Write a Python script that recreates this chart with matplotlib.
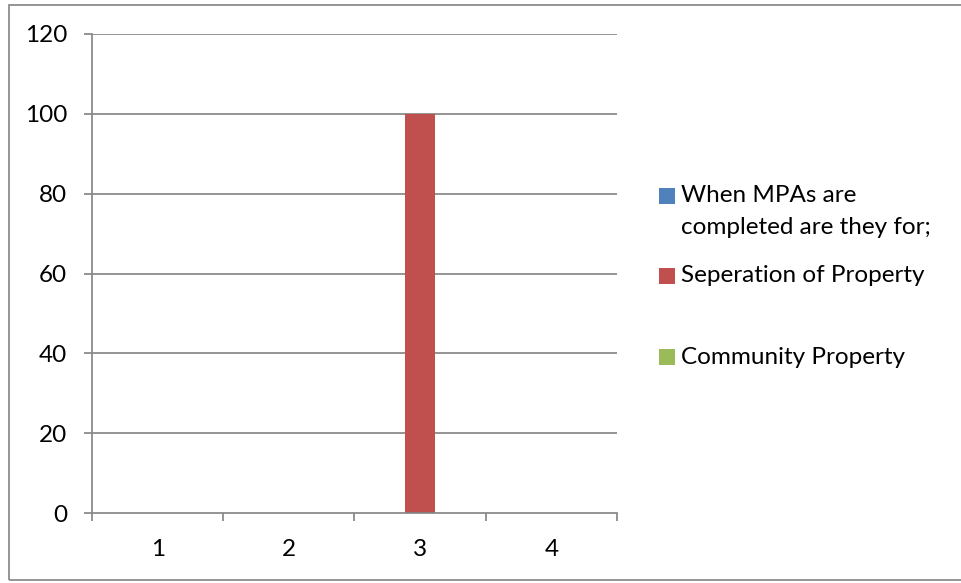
import matplotlib
matplotlib.use("Agg")
import matplotlib.pyplot as plt
from matplotlib.patches import Rectangle
import numpy as np

plt.rcParams['font.family'] = ['Lato', 'DejaVu Sans']

categories = ["1", "2", "3", "4"]
series_names = ["When MPAs are\ncompleted are they for;", "Seperation of Property", "Community Property"]
when_mpas = [0, 0, 0, 0]
separation = [0, 0, 100, 0]
community = [0, 0, 0, 0]
series_values = [when_mpas, separation, community]
colors = ["#4F81BD", "#C0504D", "#9BBB59"]
y_ticks = [0, 20, 40, 60, 80, 100, 120]

W, H = 962, 583
FS = 17.5
fig = plt.figure(figsize=(W / 100, H / 100), dpi=100)

# outer chart border
fig.patches.append(Rectangle((9 / W, 3 / H), 1.0, (575 / H), transform=fig.transFigure,
                             fill=False, edgecolor="#8C8C8C", linewidth=1.3))

ax = fig.add_axes([92 / W, (H - 513) / H, (617 - 92) / W, (513 - 34) / H])

x = np.arange(len(categories))
bw = 0.229
for i, (vals, c) in enumerate(zip(series_values, colors)):
    ax.bar(x + (i - 1) * bw, vals, width=bw, color=c, zorder=3)

ax.set_xlim(-0.5, len(categories) - 0.5)
ax.set_ylim(0, 120)
ax.set_yticks(y_ticks)
ax.set_yticklabels([str(v) for v in y_ticks])
ax.set_xticks(x)
ax.set_xticklabels(categories)
# category boundary ticks
ax.set_xticks(np.arange(-0.5, len(categories), 1.0), minor=True)

grid_c = "#868686"
for v in y_ticks[1:]:
    ax.axhline(v, color=grid_c, linewidth=1.25, zorder=1)

for s in ["top", "right"]:
    ax.spines[s].set_visible(False)
for s in ["left", "bottom"]:
    ax.spines[s].set_color(grid_c)
    ax.spines[s].set_linewidth(1.25)
ax.spines["bottom"].set_zorder(4)

ax.tick_params(axis="y", length=6, width=1.25, color=grid_c, pad=12, labelsize=FS)
ax.tick_params(axis="x", which="major", length=0, pad=19, labelsize=FS)
ax.tick_params(axis="x", which="minor", length=6, width=1.25, color=grid_c)

# legend: colour key squares with their labels
leg_rows = [(196, 0), (276, 1), (357, 2)]
for y_px, i in leg_rows:
    fig.patches.append(Rectangle((659 / W, (H - y_px - 8) / H), 16 / W, 16 / H,
                                 transform=fig.transFigure, facecolor=colors[i], edgecolor="none"))
    for k, line in enumerate(series_names[i].split("\n")):
        fig.text(681 / W, (H - y_px - 32 * k) / H, line, fontsize=FS, va="center", ha="left")

fig.savefig("out.png", dpi=100)
